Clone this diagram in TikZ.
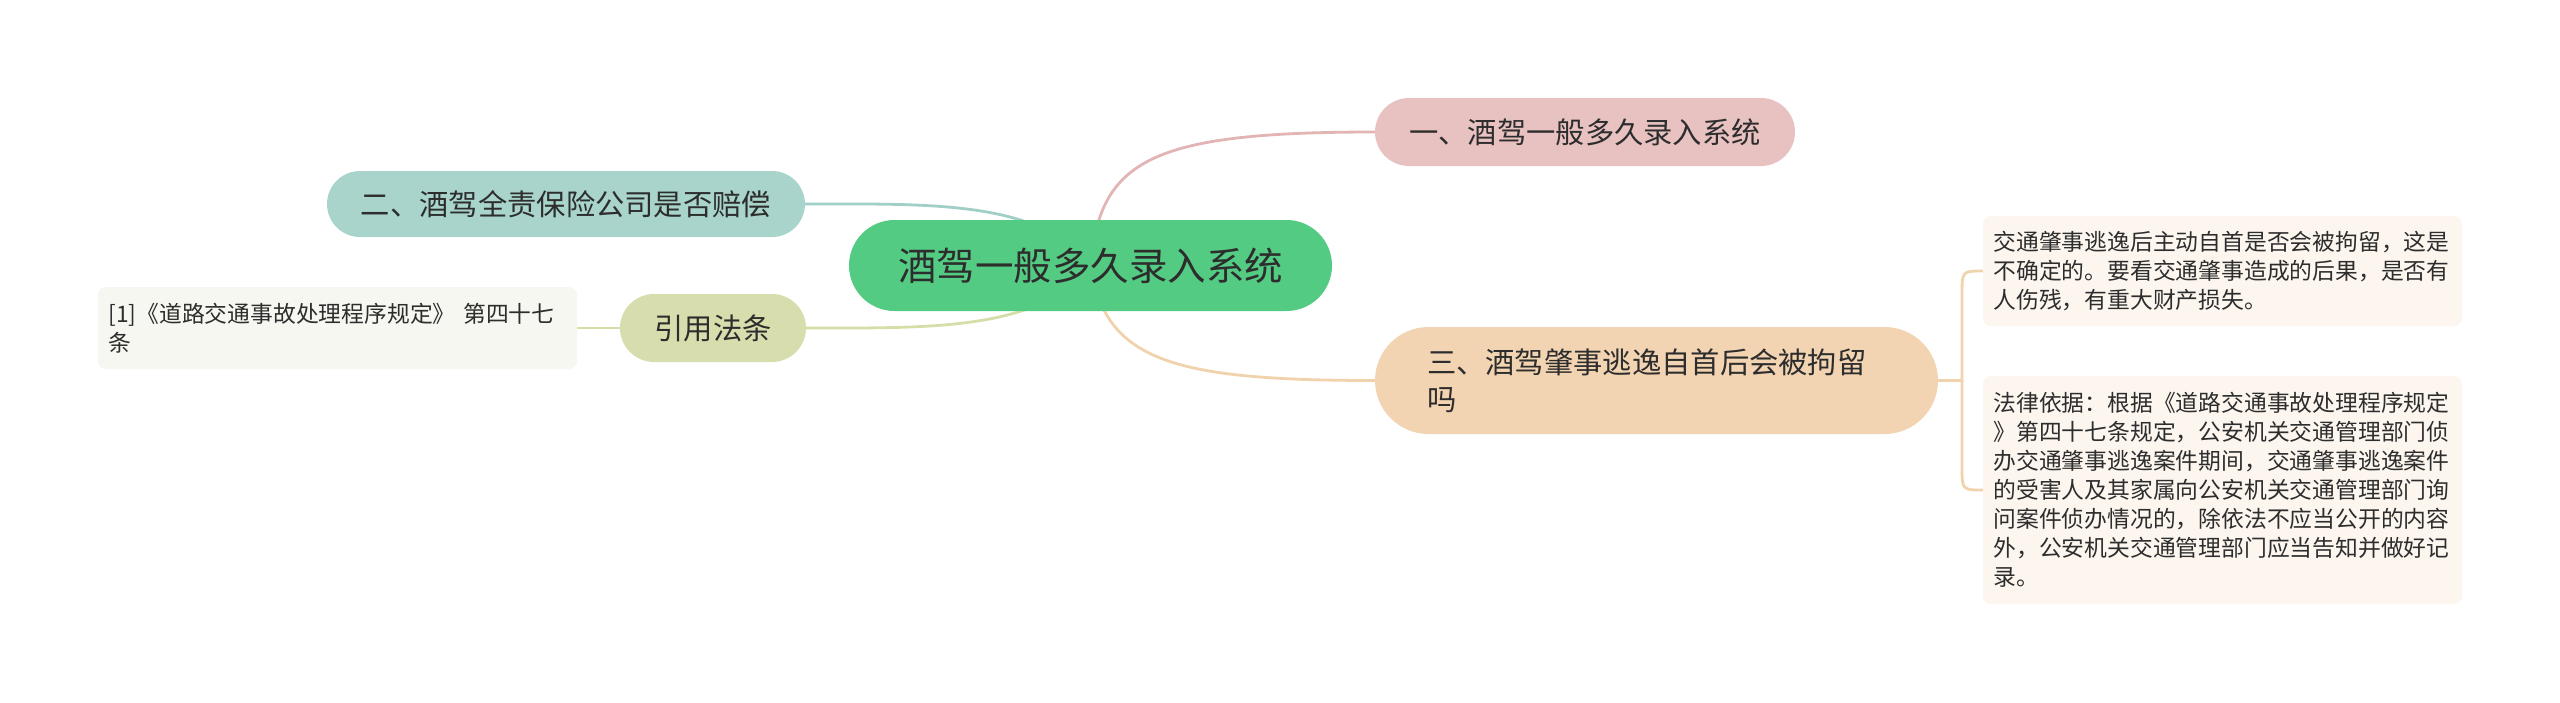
\documentclass[tikz,border=0pt]{standalone}
\usepackage{fontspec}
\setmainfont{Noto Sans CJK SC}
\usetikzlibrary{backgrounds}
\definecolor{rootc}{RGB}{84,203,131}
\definecolor{onec}{RGB}{232,193,193}
\definecolor{twoc}{RGB}{168,212,203}
\definecolor{threec}{RGB}{242,212,178}
\definecolor{refc}{RGB}{215,221,172}
\definecolor{leafrc}{RGB}{252,246,239}
\definecolor{leaflc}{RGB}{246,247,240}
\definecolor{pinkline}{RGB}{226,180,180}
\definecolor{tealline}{RGB}{160,207,199}
\definecolor{oliveline}{RGB}{214,221,168}
\definecolor{peachline}{RGB}{240,210,172}
\definecolor{txt}{RGB}{45,45,45}
\begin{document}
\begin{tikzpicture}[x=1pt,y=-1pt,
  base/.style={inner sep=0pt, text=txt, draw=none},
  midfont/.style={font=\fontsize{29.3}{37}\selectfont},
  leaffont/.style={font=\fontsize{22.8}{29}\selectfont},
  pill/.style={base, midfont, minimum height=68pt, rounded corners=34pt},
  leafbox/.style={base, leaffont, align=left, text width=458pt, inner xsep=10.5pt, rounded corners=8pt},
  conn/.style={line width=2.8pt, line cap=round}]
\useasboundingbox (0,0) rectangle (2560,702);

\node[base, fill=rootc, minimum width=483pt, minimum height=91pt, rounded corners=45.5pt,
      font=\fontsize{38.5}{46}\selectfont] (root) at (1090.5,265.5) {酒驾一般多久录入系统};

\node[pill, fill=onec, minimum width=420pt] (n1) at (1585,132) {一、酒驾一般多久录入系统};
\node[pill, fill=twoc, minimum width=478pt, minimum height=66pt, rounded corners=33pt] (n2) at (566,204) {二、酒驾全责保险公司是否赔偿};
\node[pill, fill=refc, minimum width=186pt] (ref) at (713,328) {引用法条};
\node[base, midfont, fill=threec, align=left, text width=459pt, inner xsep=52pt,
      minimum height=107pt, rounded corners=53.5pt] (n3) at (1656.5,380.5)
      {三、酒驾肇事逃逸自首后会被拘留\\吗};

\node[leafbox, fill=leaflc, minimum height=82pt] (leafL) at (337.5,328)
      {[1]《道路交通事故处理程序规定》 第四十七\\条};
\node[leafbox, fill=leafrc, minimum height=110pt] (l1) at (2222.5,271)
      {交通肇事逃逸后主动自首是否会被拘留，这是\\不确定的。要看交通肇事造成的后果，是否有\\人伤残，有重大财产损失。};
\node[leafbox, fill=leafrc, minimum height=228pt] (l2) at (2222.5,490)
      {法律依据：根据《道路交通事故处理程序规定\\》第四十七条规定，公安机关交通管理部门侦\\办交通肇事逃逸案件期间，交通肇事逃逸案件\\的受害人及其家属向公安机关交通管理部门询\\问案件侦办情况的，除依法不应当公开的内容\\外，公安机关交通管理部门应当告知并做好记\\录。};

\coordinate (br) at (1962,380.5);

\begin{pgfonlayer}{background}
\draw[conn, pinkline] (root.center) .. controls (1100,160) and (1150,132) .. (n1.west);
\draw[conn, peachline] (root.center) .. controls (1105,360) and (1170,380.5) .. (n3.west);
\draw[conn, tealline] (root.center) .. controls (1040,200) and (930,204) .. (n2.east);
\draw[conn, oliveline] (root.center) .. controls (1040,331) and (930,328) .. (ref.east);
\draw[conn, oliveline] (ref.west) -- (leafL.east);
\draw[conn, peachline] (n3.east) -- (br);
\draw[conn, peachline] (l1.west) .. controls (1962,271) .. (1962,295) -- (1962,466) .. controls (1962,490) .. (l2.west);
\end{pgfonlayer}
\end{tikzpicture}
\end{document}
